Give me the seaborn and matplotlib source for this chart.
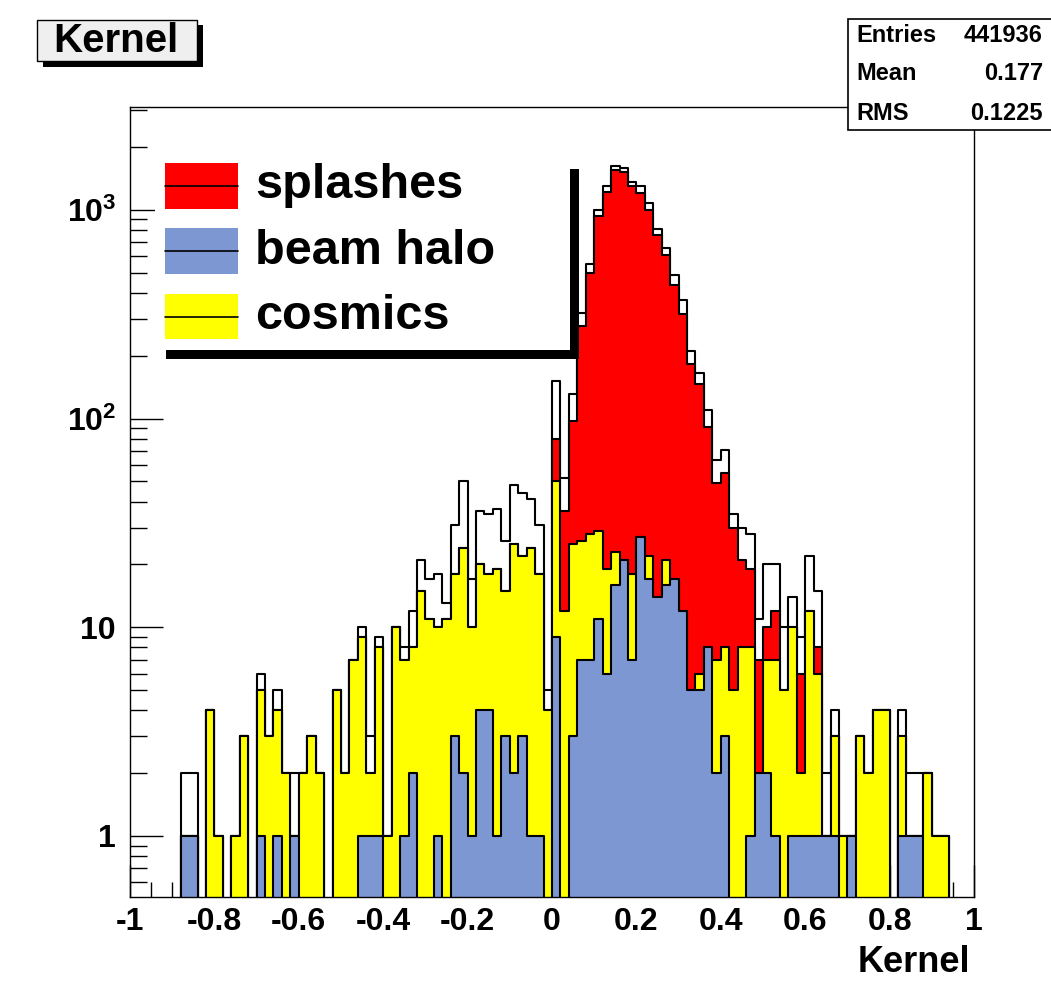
import numpy as np
import pandas as pd
import matplotlib
matplotlib.use("Agg")
import matplotlib.pyplot as plt
import seaborn as sns
from matplotlib.patches import Rectangle
from matplotlib.lines import Line2D
from matplotlib.ticker import LogLocator, NullFormatter, MultipleLocator

# ---------------- data (counts per bin, 100 bins of width 0.02 from -1 to 1) -------------
x_min = -1.0
x_max = 1.0
n_bins = 100

halo = [0, 0, 0, 0, 0, 0, 1, 1, 0, 0,
        0, 0, 0, 0, 0, 1, 0, 1, 0, 1,
        0, 0, 0, 0, 0, 0, 0, 1, 1, 1,
        0, 0, 1, 2, 0, 0, 1, 0, 3, 2,
        1, 4, 4, 1, 3, 2, 3, 1, 1, 0,
        9, 0, 3, 7, 7, 11, 6, 16, 21, 7,
        27, 17, 14, 16, 17, 12, 5, 5, 8, 2,
        3, 0, 0, 1, 2, 2, 1, 0, 1, 1,
        1, 1, 1, 1, 0, 1, 0, 0, 0, 0,
        0, 1, 1, 1, 0, 0, 0, 0, 0, 0]

cosmics = [0, 0, 0, 0, 0, 0, 0, 0, 0, 4,
           1, 0, 1, 3, 0, 4, 3, 3, 2, 0,
           2, 3, 2, 0, 5, 2, 7, 8, 1, 7,
           1, 10, 6, 6, 15, 11, 9, 11, 15, 22,
           9, 16, 14, 18, 12, 23, 19, 23, 17, 4,
           41, 12, 22, 19, 21, 18, 13, 7, 0, 11,
           0, 5, 0, 5, 0, 0, 0, 1, 0, 5,
           5, 5, 8, 7, 0, 5, 6, 5, 9, 1,
           11, 5, 0, 2, 1, 0, 3, 2, 4, 4,
           0, 2, 0, 0, 2, 1, 1, 0, 0, 0]

splashes = [0, 0, 0, 0, 0, 0, 0, 0, 0, 0,
            0, 0, 0, 0, 0, 0, 0, 0, 0, 0,
            0, 0, 0, 0, 0, 0, 0, 0, 0, 0,
            0, 0, 0, 0, 0, 0, 0, 0, 0, 0,
            0, 0, 0, 0, 0, 0, 0, 0, 0, 0,
            30, 24, 72, 252, 468, 909, 1201, 1527, 1489, 1282,
            1173, 975, 746, 585, 419, 306, 178, 141, 83, 42,
            47, 25, 13, 11, 5, 3, 5, 0, 0, 4,
            0, 2, 0, 0, 0, 0, 0, 0, 0, 0,
            0, 0, 0, 0, 0, 0, 0, 0, 0, 0]

other = [0, 0, 0, 0, 0, 0, 1, 1, 0, 0,
         0, 0, 0, 0, 0, 1, 0, 1, 0, 1,
         0, 0, 0, 0, 0, 0, 0, 1, 1, 1,
         0, 0, 1, 4, 6, 6, 8, 2, 13, 26,
         7, 16, 17, 18, 11, 23, 22, 17, 13, 1,
         71, 16, 34, 44, 54, 59, 80, 80, 70, 60,
         100, 83, 48, 54, 49, 51, 27, 19, 19, 14,
         16, 5, 9, 9, 4, 10, 8, 5, 4, 3,
         10, 7, 1, 1, 0, 0, 0, 0, 0, 0,
         0, 1, 1, 1, 0, 0, 0, 0, 0, 0]

x_tick_values = [-1, -0.8, -0.6, -0.4, -0.2, 0, 0.2, 0.4, 0.6, 0.8, 1]
x_tick_labels = ["-1", "-0.8", "-0.6", "-0.4", "-0.2", "0", "0.2", "0.4", "0.6", "0.8", "1"]
y_tick_values = [1, 10, 100, 1000]
y_tick_labels = ["1", "10", "$10^{2}$", "$10^{3}$"]

legend_names = ["splashes", "beam halo", "cosmics"]
title_text = "Kernel"
axis_title = "Kernel"
stats_names = ["Entries", "Mean", "RMS"]
stats_values = ["441936", "0.177", "0.1225"]

# ---------------- style ----------------
sns.set_theme(style="white")
plt.rcParams['font.family'] = ['Liberation Sans', 'DejaVu Sans']
plt.rcParams['font.weight'] = 'bold'
plt.rcParams['text.color'] = 'black'
plt.rcParams['xtick.color'] = 'black'
plt.rcParams['ytick.color'] = 'black'
plt.rcParams['xtick.labelcolor'] = 'black'
plt.rcParams['ytick.labelcolor'] = 'black'
plt.rcParams['xtick.bottom'] = True
plt.rcParams['ytick.left'] = True
plt.rcParams['mathtext.fontset'] = 'custom'
plt.rcParams['mathtext.rm'] = 'Liberation Sans:bold'
plt.rcParams['mathtext.it'] = 'Liberation Sans:bold'
plt.rcParams['mathtext.bf'] = 'Liberation Sans:bold'
plt.rcParams['mathtext.default'] = 'rm'

RED = "#ff0000"
BLUE = "#7d97d3"
YELLOW = "#ffff00"

W, H = 1051, 981
fig = plt.figure(figsize=(W / 100, H / 100), dpi=100)
fig.patch.set_facecolor("white")


def fx(px):
    return px / W


def fy(py):
    return 1 - py / H


ax_left, ax_right, ax_top, ax_bottom = 130, 974, 107, 897
ax = fig.add_axes([fx(ax_left), fy(ax_bottom), fx(ax_right - ax_left), (ax_bottom - ax_top) / H])
ax.set_facecolor("white")
ax.set_yscale("log")
ax.set_axisbelow(True)

edges = np.linspace(x_min, x_max, n_bins + 1)
centers = 0.5 * (edges[:-1] + edges[1:])
h = np.array(halo, dtype=float)
c = np.array(cosmics, dtype=float)
s = np.array(splashes, dtype=float)
o = np.array(other, dtype=float)

df = pd.DataFrame({
    "kernel": centers,
    "total": h + c + s + o,
    "splash_stack": h + c + s,
    "cosmic_stack": h + c,
    "halo_stack": h,
})

layers = [("total", "white"), ("splash_stack", RED), ("cosmic_stack", YELLOW), ("halo_stack", BLUE)]
for col_name, col in layers:
    sns.histplot(data=df, x="kernel", weights=col_name, bins=list(edges), element="step",
                 fill=True, color=col, alpha=1, edgecolor="black", linewidth=1.5, ax=ax)

ax.set_xlim(x_min, x_max)
ax.set_ylim(0.51, 3110)
ax.set_xlabel("")
ax.set_ylabel("")

for sp in ax.spines.values():
    sp.set_color("black")
    sp.set_linewidth(1.0)
    sp.set_zorder(5)

ax.set_xticks(x_tick_values)
ax.set_xticklabels(x_tick_labels)
ax.xaxis.set_minor_locator(MultipleLocator(0.05))
ax.set_yticks(y_tick_values)
ax.set_yticklabels(y_tick_labels)
ax.yaxis.set_minor_locator(LogLocator(base=10, subs=np.arange(2, 10), numticks=20))
ax.yaxis.set_minor_formatter(NullFormatter())

ax.tick_params(axis="both", which="both", direction="in", top=False, right=False,
               bottom=True, left=True, color="black", width=1.0)
ax.tick_params(axis="x", which="major", length=23, labelsize=23, pad=7)
ax.tick_params(axis="x", which="minor", length=11)
ax.tick_params(axis="y", which="major", length=24, labelsize=23, pad=10)
ax.tick_params(axis="y", which="minor", length=12)
for lab in ax.get_xticklabels() + ax.get_yticklabels():
    lab.set_fontweight("bold")
    lab.set_color("black")

# x axis title
fig.text(fx(970), fy(963), axis_title, ha="right", va="center", fontsize=26, fontweight="bold")

# ---------------- title box with shadow ----------------
fig.patches.append(Rectangle((fx(43), fy(67)), fx(160), (67 - 25) / H,
                             transform=fig.transFigure, facecolor="black", edgecolor="none", zorder=1))
fig.patches.append(Rectangle((fx(37), fy(61)), fx(160), (61 - 20) / H,
                             transform=fig.transFigure, facecolor="#efefef", edgecolor="black",
                             linewidth=1.0, zorder=2))
fig.text(fx(116), fy(41), title_text, ha="center", va="center", fontsize=29,
         fontweight="bold", zorder=3)

# ---------------- stats box ----------------
fig.patches.append(Rectangle((fx(848), fy(130)), fx(210), (130 - 19) / H,
                             transform=fig.transFigure, facecolor="white", edgecolor="black",
                             linewidth=1.2, zorder=2))
stat_rows = [36, 74, 114]
for name, val, yy in zip(stats_names, stats_values, stat_rows):
    fig.text(fx(856), fy(yy), name, ha="left", va="center", fontsize=17, fontweight="bold", zorder=3)
    fig.text(fx(1043), fy(yy), val, ha="right", va="center", fontsize=17, fontweight="bold", zorder=3)

# ---------------- legend with shadow ----------------
fig.patches.append(Rectangle((fx(166), fy(359)), fx(413), (359 - 169) / H,
                             transform=fig.transFigure, facecolor="black", edgecolor="none", zorder=1))
fig.patches.append(Rectangle((fx(155), fy(350)), fx(415), (350 - 158) / H,
                             transform=fig.transFigure, facecolor="white", edgecolor="none", zorder=2))
legend_colors = [RED, BLUE, YELLOW]
legend_rows = [(163, 209), (228, 274), (294, 339)]
for name, col, (y0, y1) in zip(legend_names, legend_colors, legend_rows):
    fig.patches.append(Rectangle((fx(165), fy(y1)), fx(73), (y1 - y0) / H,
                                 transform=fig.transFigure, facecolor=col, edgecolor="none", zorder=3))
    ym = 0.5 * (y0 + y1)
    fig.lines.append(Line2D([fx(165), fx(238)], [fy(ym), fy(ym)], transform=fig.transFigure,
                            color="black", linewidth=1.2, zorder=4))
    fig.text(fx(255), fy(ym), name, ha="left", va="center", fontsize=35, fontweight="bold", zorder=4)

fig.savefig("out.png", dpi=100, facecolor="white")
